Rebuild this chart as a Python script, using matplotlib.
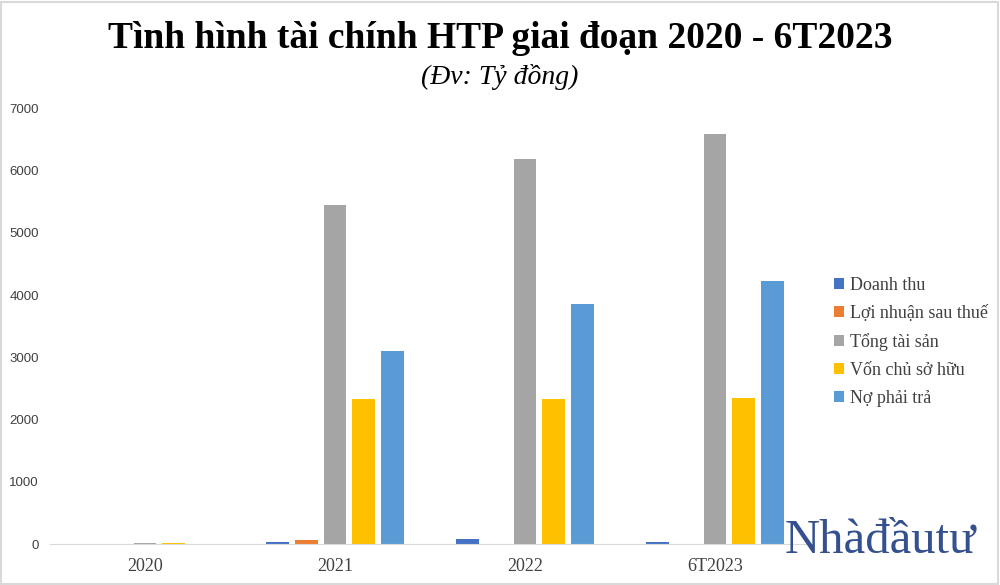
import numpy as np
import matplotlib.pyplot as plt
from matplotlib.patches import Rectangle

plt.rcParams['font.family'] = ['Liberation Serif', 'DejaVu Serif']

# Du lieu (Ty dong)
ky = ['2020', '2021', '2022', '6T2023']
doanh_thu = [8, 30, 85, 37]
loi_nhuan = [0, 60, 0, 0]
tong_tai_san = [15, 5440, 6180, 6580]
von_csh = [15, 2330, 2330, 2340]
no_phai_tra = [0, 3100, 3850, 4220]

ten_chuoi = ['Doanh thu', 'Lợi nhuận sau thuế', 'Tổng tài sản', 'Vốn chủ sở hữu', 'Nợ phải trả']
mau = ['#4472C4', '#ED7D31', '#A5A5A5', '#FFC000', '#5B9BD5']
chuoi = [doanh_thu, loi_nhuan, tong_tai_san, von_csh, no_phai_tra]

fig = plt.figure(figsize=(10, 5.85), dpi=100)
ax = fig.add_axes([0.05, 0.07, 0.76, 0.745])

x = np.arange(len(ky))
w = 0.12
buoc = 0.152
for i, (vals, ten, c) in enumerate(zip(chuoi, ten_chuoi, mau)):
    ax.bar(x + (i - 2) * buoc, vals, width=w, color=c, label=ten)

ax.set_xlim(-0.5, 3.5)
ax.set_ylim(0, 7000)
ax.set_yticks(range(0, 7001, 1000))
ax.set_yticklabels([str(v) for v in range(0, 7001, 1000)], family='Liberation Sans',
                   fontsize=9.5, color='#404040')
ax.set_xticks(x)
ax.set_xticklabels(ky, fontsize=13, color='#404040')
ax.tick_params(length=0)
ax.tick_params(axis='y', pad=8)
ax.tick_params(axis='x', pad=10)
for s in ['top', 'right', 'left']:
    ax.spines[s].set_visible(False)
ax.spines['bottom'].set_color('#D9D9D9')

leg = fig.legend(loc='upper left', bbox_to_anchor=(0.818, 0.555), frameon=False,
                 fontsize=13, handlelength=0.55, handleheight=0.55, handletextpad=0.35,
                 labelspacing=0.62, labelcolor='#404040')

fig.text(0.5, 0.935, 'Tình hình tài chính HTP giai đoạn 2020 - 6T2023', ha='center',
         va='center', fontsize=27, fontweight='bold')
fig.text(0.5, 0.868, '(Đv: Tỷ đồng)', ha='center', va='center', fontsize=20, style='italic')

# logo
fig.text(0.88, 0.076, 'Nhàđầutư', ha='center', va='center', fontsize=35, color='#34508F')

fig.patches.append(Rectangle((0.001, 0.002), 0.997, 0.995, transform=fig.transFigure,
                             fill=False, edgecolor='#D9D9D9', linewidth=1.5))

plt.savefig('out.png', dpi=100)
